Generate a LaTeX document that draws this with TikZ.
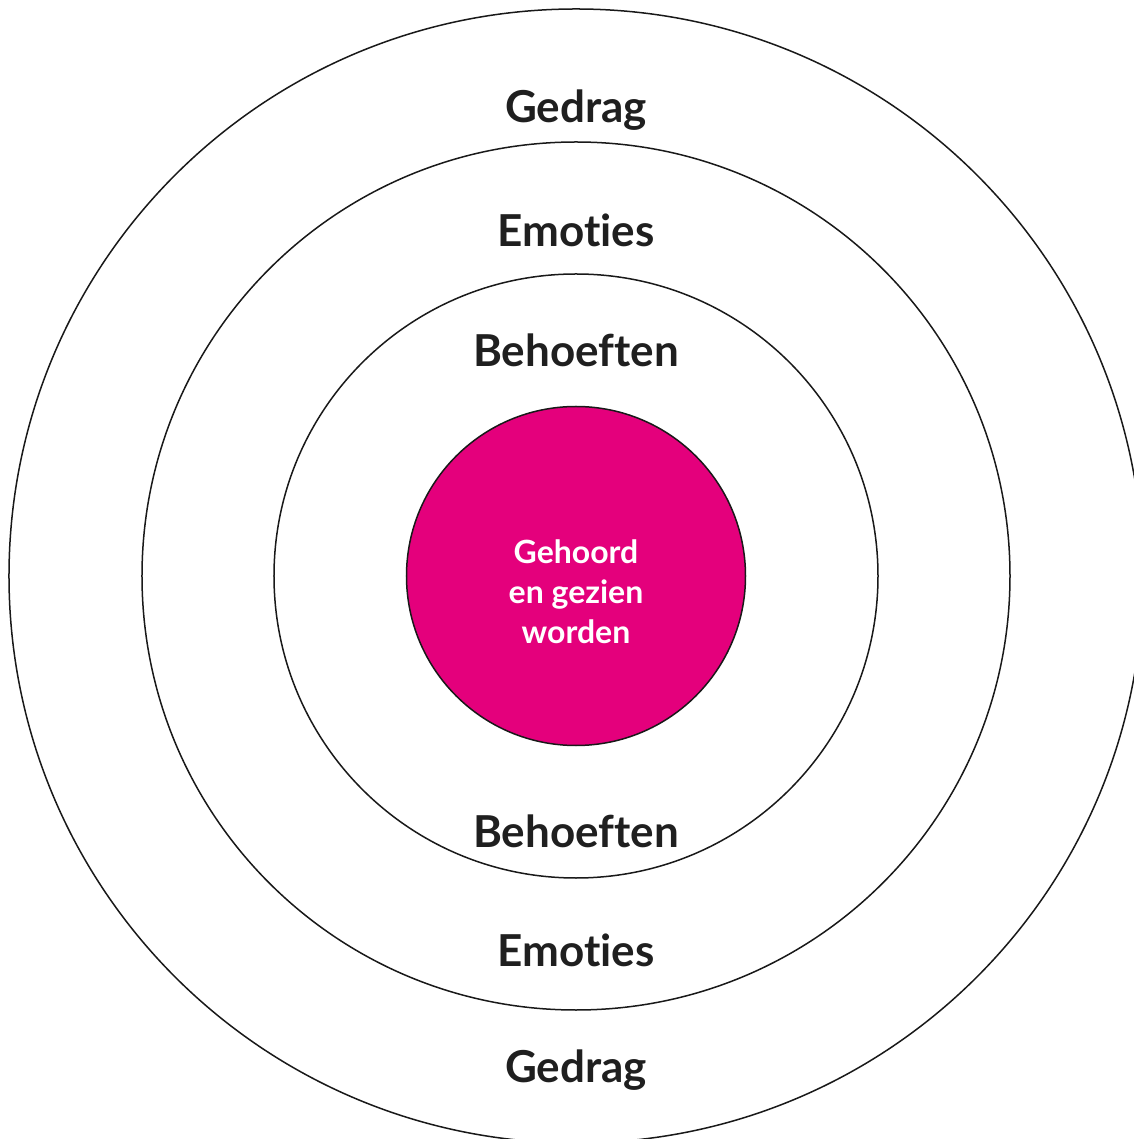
\documentclass[tikz,border=0pt]{standalone}
\usepackage{fontspec}
\setmainfont{Lato}[Ligatures = NoCommon]
\usepackage{tikz}

\definecolor{kernroze}{HTML}{E4007C}

\begin{document}
\begin{tikzpicture}[x = 1pt, y = 1pt, line width = 1.5pt,
                      ring/.style = {circle, draw = black!90, inner sep = 0pt},
                      laag/.style = {font = \fontsize{44}{46}\selectfont\bfseries, text = black!88},
                      kern/.style = {font = \fontsize{32}{40}\selectfont\bfseries, text = white, align = center}]
    \useasboundingbox (-576, -563) rectangle (557, 576);

    \node [ring, minimum size = 1134pt] (gedrag) at (0, 0){};
    \node [ring, minimum size = 868pt] (emoties) at (0, 0){};
    \node [ring, minimum size = 604pt] (behoeften) at (0, 0){};
    \node [ring, fill = kernroze, minimum size = 339pt] (kern) at (0, 0){};

    \node [laag] (g1) at (0, 466){Gedrag};
    \node [laag] (e1) at (0, 346){Emoties};
    \node [laag] (b1) at (0, 226){Behoeften};
    \node [laag] (b2) at (0, -255){Behoeften};
    \node [laag] (e2) at (0, -374){Emoties};
    \node [laag] (g2) at (0, -494){Gedrag};

    \node [kern] (tekst) at (0, -16){Gehoord\\en gezien\\worden};
\end{tikzpicture}
\end{document}
